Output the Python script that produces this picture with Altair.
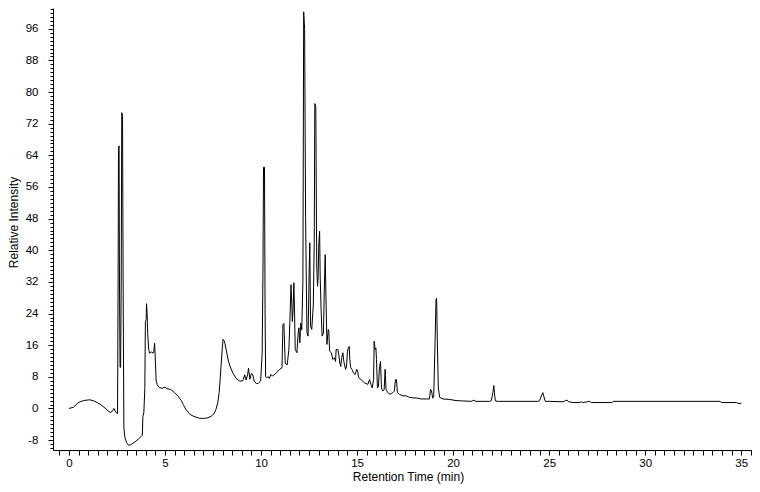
import altair as alt
import pandas as pd

# Retention time (min) and relative intensity
time_min = [
    0.00, 0.23, 0.49, 0.75, 1.09, 1.35, 1.61, 1.88, 2.14, 2.26, 2.34, 2.45, 2.53,
    2.56, 2.58, 2.61, 2.63, 2.66, 2.69, 2.72, 2.75, 2.79, 2.82, 2.86, 2.92, 3.00,
    3.10, 3.20, 3.40, 3.60, 3.78, 3.82, 3.85, 3.90, 3.95, 3.98, 4.02, 4.04, 4.07,
    4.10, 4.15, 4.20, 4.30, 4.38, 4.42, 4.46, 4.50, 4.54, 4.60, 4.70, 4.85, 5.00,
    5.10, 5.30, 5.50, 5.70, 5.85, 5.95, 6.10, 6.30, 6.50, 6.80, 7.00, 7.20, 7.40,
    7.55, 7.65, 7.75, 7.82, 7.88, 7.95, 8.02, 8.07, 8.12, 8.20, 8.30, 8.40, 8.55,
    8.70, 8.90, 9.05, 9.15, 9.22, 9.30, 9.35, 9.42, 9.50, 9.57, 9.64, 9.75, 9.85,
    9.98, 10.06, 10.10, 10.13, 10.18, 10.21, 10.24, 10.29, 10.38, 10.43, 10.52,
    10.60, 10.80, 10.97, 11.09, 11.14, 11.19, 11.26, 11.36, 11.45, 11.50, 11.56,
    11.60, 11.63, 11.67, 11.71, 11.74, 11.78, 11.87, 11.92, 11.97, 12.02, 12.07,
    12.12, 12.18, 12.22, 12.27, 12.32, 12.39, 12.45, 12.51, 12.54, 12.58, 12.64,
    12.72, 12.77, 12.80, 12.85, 12.90, 12.94, 12.97, 13.01, 13.05, 13.08, 13.13,
    13.18, 13.25, 13.29, 13.34, 13.38, 13.43, 13.50, 13.53, 13.57, 13.66, 13.74,
    13.83, 13.88, 13.91, 14.00, 14.05, 14.10, 14.15, 14.20, 14.26, 14.31, 14.35,
    14.40, 14.45, 14.50, 14.55, 14.59, 14.62, 14.67, 14.73, 14.81, 14.90, 14.98,
    15.03, 15.08, 15.21, 15.38, 15.56, 15.65, 15.72, 15.79, 15.86, 15.89, 15.94,
    15.98, 16.01, 16.06, 16.11, 16.16, 16.22, 16.27, 16.34, 16.41, 16.46, 16.51,
    16.60, 16.72, 16.86, 16.94, 17.00, 17.05, 17.10, 17.21, 17.38, 17.56, 17.73,
    17.90, 18.16, 18.34, 18.60, 18.77, 18.82, 18.87, 18.94, 18.99, 19.06, 19.11,
    19.14, 19.18, 19.23, 19.30, 19.47, 19.80, 20.15, 20.50, 20.94, 21.08, 21.18,
    21.90, 21.99, 22.07, 22.12, 22.15, 22.20, 22.35, 24.42, 24.50, 24.59, 24.67,
    24.72, 24.80, 25.00, 25.72, 25.85, 25.94, 26.01, 26.25, 26.60, 26.68, 26.75,
    27.10, 27.20, 28.28, 28.33, 33.89, 33.98, 34.75, 34.83, 35.01,
]
intensity = [
    0.0, 0.3, 1.5, 2.0, 2.2, 1.8, 1.1, 0.1, -1.0, -0.7, 0.0, -1.0, -1.3,
    33.0, 65.5, 66.4, 33.0, 10.4, 10.4, 32.0, 74.8, 73.9, 32.0, -5.0, -7.5, -8.6,
    -9.3, -9.2, -8.6, -7.8, -7.0, -6.8, -2.0, -1.0, 5.0, 22.0, 22.5, 26.5, 24.0,
    19.0, 15.0, 14.0, 14.3, 14.0, 14.5, 16.5, 12.0, 7.0, 6.0, 5.3, 5.1, 5.4,
    5.0, 4.8, 4.0, 3.0, 2.0, 1.0, -0.3, -1.5, -2.0, -2.5, -2.5, -2.4, -2.0,
    -1.3, -0.3, 1.5, 4.0, 8.0, 13.0, 17.5, 17.2, 16.5, 14.5, 12.0, 10.5, 8.8,
    7.6, 6.9, 7.0, 8.5, 7.2, 8.5, 10.2, 7.4, 8.9, 8.5, 7.0, 6.3, 6.3,
    7.0, 14.0, 34.0, 61.0, 61.0, 25.0, 8.0, 7.8, 8.0, 7.6, 8.6,
    8.2, 9.0, 9.9, 10.3, 21.2, 21.5, 11.5, 11.0, 14.9, 21.7, 31.3,
    26.7, 22.0, 25.0, 31.8, 25.9, 14.9, 14.1, 18.3, 20.4, 16.6, 21.6,
    19.9, 32.2, 100.3, 95.8, 48.6, 19.1, 18.3, 36.0, 41.9, 20.8, 20.0,
    25.9, 41.9, 77.1, 76.4, 36.0, 30.9, 33.0, 41.9, 44.8, 33.2, 24.6,
    18.3, 19.1, 29.2, 38.9, 28.4, 16.2, 20.0, 19.5, 14.5, 14.1, 12.4,
    12.8, 11.9, 14.9, 14.9, 13.5, 11.5, 10.6, 12.8, 14.1, 11.9, 11.0,
    9.9, 10.5, 14.5, 15.3, 15.7, 12.4, 10.3, 9.9, 9.0, 8.6, 9.9,
    9.4, 7.8, 7.3, 6.5, 6.1, 7.3, 6.1, 5.2, 7.3, 17.0, 14.9,
    15.3, 12.4, 5.2, 5.5, 9.9, 11.9, 5.2, 4.4, 4.8, 9.9, 4.8,
    4.0, 3.6, 4.0, 4.4, 7.3, 7.3, 4.0, 3.6, 3.2, 3.2, 2.8,
    2.7, 2.6, 2.4, 2.4, 2.4, 4.8, 4.6, 2.6, 3.0, 16.6, 27.5,
    27.9, 16.6, 5.2, 2.8, 2.4, 2.3, 2.0, 1.9, 1.8, 2.1, 1.8,
    1.8, 2.0, 4.0, 5.8, 4.0, 1.9, 1.8, 1.8, 2.0, 3.1, 4.0,
    3.1, 1.8, 1.8, 1.7, 2.0, 2.1, 1.7, 1.5, 1.5, 1.7, 1.5,
    1.8, 1.5, 1.5, 1.8, 1.8, 1.5, 1.5, 1.3, 1.3,
]

x_domain = [-0.83, 35.56]
y_domain = [-10.5, 101.26]
x_tick_values = [i * 0.5 for i in range(-1, 72)]
y_tick_values = list(range(-10, 102))

df = pd.DataFrame({"time": time_min, "intensity": intensity})

FONT = "Liberation Sans"

chart = (
    alt.Chart(df)
    .mark_line(color="black", strokeWidth=1, clip=True)
    .encode(
        x=alt.X(
            "time:Q",
            scale=alt.Scale(domain=x_domain, nice=False, zero=False),
            axis=alt.Axis(
                title="Retention Time (min)",
                values=x_tick_values,
                labelExpr="datum.value % 5 === 0 ? '' + datum.value : ''",
                grid=False,
                tickSize=5,
                labelPadding=2,
                labelFontSize=11.5,
                labelOverlap=False,
                labelFlush=False,
                titleX=355,
                titleY=21.5,
                titleBaseline="top",
            ),
        ),
        y=alt.Y(
            "intensity:Q",
            scale=alt.Scale(domain=y_domain, nice=False, zero=False),
            axis=alt.Axis(
                title="Relative Intensity",
                values=y_tick_values,
                labelExpr="datum.value % 8 === 0 ? '' + datum.value : ''",
                grid=False,
                tickSize={"condition": {"test": "datum.value % 8 === 0", "value": 5}, "value": 3},
                labelPadding=10,
                labelFontSize=11.5,
                labelOverlap=False,
                labelFlush=False,
                titleX=-33,
                titleY=214,
                titleAngle=270,
                titleBaseline="bottom",
            ),
        ),
    )
    .properties(
        width=699,
        height=442,
        padding={"left": 45, "top": 0, "right": 0, "bottom": 34},
        autosize=alt.AutoSizeParams(type="none"),
        background="white",
    )
    .configure_view(stroke=None)
    .configure_axis(
        domainColor="black",
        tickColor="black",
        labelColor="black",
        titleColor="black",
        labelFont=FONT,
        titleFont=FONT,
        titleFontSize=12,
        titleFontWeight="normal",
        domainWidth=1,
        tickWidth=1,
    )
)

chart.save("out.html", embed_options={"renderer": "svg", "actions": False})
